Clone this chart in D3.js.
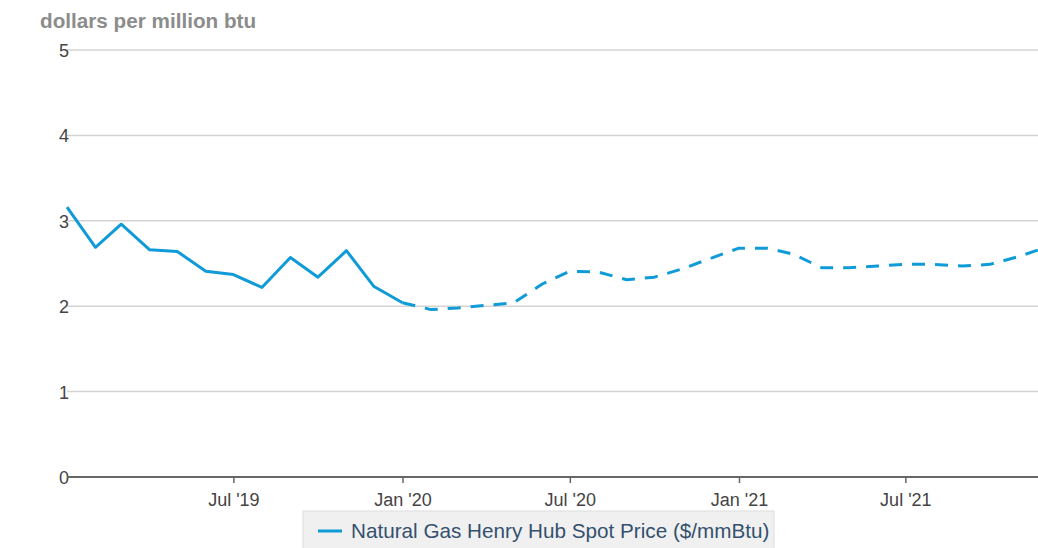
<!DOCTYPE html>
<html>
<head>
<meta charset="utf-8">
<script src="https://cdn.jsdelivr.net/npm/d3@7"></script>
<style>
    body { margin: 0; background: #fff; }
    svg { display: block; font-family: 'Liberation Sans', Arial, sans-serif; }
</style>
</head>
<body>
<svg id="chart" width="1038" height="548"></svg>
<script>
// Monthly Henry Hub spot price, history then forecast.
var historyMonths = ['2019-01', '2019-02', '2019-03', '2019-04', '2019-05', '2019-06',
    '2019-07', '2019-08', '2019-09', '2019-10', '2019-11', '2019-12', '2020-01'];
var historyValues = [3.16, 2.69, 2.96, 2.66, 2.64, 2.41, 2.37, 2.22, 2.57, 2.34, 2.65, 2.23, 2.04];

var forecastMonths = ['2020-01', '2020-02', '2020-03', '2020-04', '2020-05', '2020-06',
    '2020-07', '2020-08', '2020-09', '2020-10', '2020-11', '2020-12',
    '2021-01', '2021-02', '2021-03', '2021-04', '2021-05', '2021-06',
    '2021-07', '2021-08', '2021-09', '2021-10', '2021-11', '2021-12'];
var forecastValues = [2.04, 1.96, 1.98, 2.01, 2.04, 2.26, 2.41, 2.40, 2.31, 2.34, 2.44, 2.56,
    2.68, 2.68, 2.61, 2.45, 2.45, 2.47, 2.49, 2.49, 2.47, 2.49, 2.58, 2.69];

var yTicks = [0, 1, 2, 3, 4, 5];
var xTickMonths = ['2019-07', '2020-01', '2020-07', '2021-01', '2021-07'];
var xTickLabels = ["Jul '19", "Jan '20", "Jul '20", "Jan '21", "Jul '21"];

var yTitle = 'dollars per million btu';
var seriesName = 'Natural Gas Henry Hub Spot Price ($/mmBtu)';

var parseMonth = d3.timeParse('%Y-%m');
var blue = '#0f9bd7';

var svg = d3.select('#chart');

var x = d3.scaleTime()
    .domain([parseMonth('2019-01'), parseMonth('2021-12')])
    .range([67, 1046]);

var y = d3.scaleLinear()
    .domain([0, 5])
    .range([477, 50]);

// Gridlines.
svg.append('g')
    .selectAll('line')
    .data(yTicks.filter(function(d) { return d > 0; }))
    .enter().append('line')
    .attr('x1', 67)
    .attr('x2', 1038)
    .attr('y1', function(d) { return y(d); })
    .attr('y2', function(d) { return y(d); })
    .attr('stroke', '#d3d3d3')
    .attr('stroke-width', 1.5);

// Y labels.
svg.append('g')
    .selectAll('text')
    .data(yTicks)
    .enter().append('text')
    .attr('x', 69)
    .attr('y', function(d) { return y(d) + 7; })
    .attr('text-anchor', 'end')
    .attr('font-size', 18)
    .attr('fill', '#444')
    .text(function(d) { return d; });

// X axis.
var xAxis = d3.axisBottom(x)
    .tickValues(xTickMonths.map(parseMonth))
    .tickFormat(function(d, i) { return xTickLabels[i]; })
    .tickSize(6)
    .tickSizeOuter(0);

var gx = svg.append('g')
    .attr('transform', 'translate(0,' + y(0) + ')')
    .call(xAxis);

gx.select('.domain').remove();
gx.selectAll('.tick line').attr('stroke', '#666').attr('stroke-width', 1.5);
gx.selectAll('.tick text')
    .attr('y', 16)
    .attr('font-size', 18)
    .attr('font-family', "'Liberation Sans', Arial, sans-serif")
    .attr('fill', '#444');

svg.append('line')
    .attr('x1', 67)
    .attr('x2', 1038)
    .attr('y1', y(0))
    .attr('y2', y(0))
    .attr('stroke', '#666')
    .attr('stroke-width', 2);

// Title.
svg.append('text')
    .attr('x', 40)
    .attr('y', 28)
    .attr('font-size', 20.7)
    .attr('font-weight', 'bold')
    .attr('fill', '#8c8c8c')
    .text(yTitle);

// Series.
var line = d3.line()
    .x(function(d) { return x(d.date); })
    .y(function(d) { return y(d.value); });

var historyData = historyMonths.map(function(m, i) {
    return { date: parseMonth(m), value: historyValues[i] };
});
var forecastData = forecastMonths.map(function(m, i) {
    return { date: parseMonth(m), value: forecastValues[i] };
});

svg.append('path')
    .datum(historyData)
    .attr('d', line)
    .attr('fill', 'none')
    .attr('stroke', blue)
    .attr('stroke-width', 3)
    .attr('stroke-linejoin', 'round');

svg.append('path')
    .datum(forecastData)
    .attr('d', line)
    .attr('fill', 'none')
    .attr('stroke', blue)
    .attr('stroke-width', 3)
    .attr('stroke-dasharray', '13,10')
    .attr('stroke-linejoin', 'round');

// Legend.
var legend = svg.append('g');
legend.append('rect')
    .attr('x', 303)
    .attr('y', 511)
    .attr('width', 471)
    .attr('height', 40)
    .attr('fill', '#f0f0f0')
    .attr('stroke', '#dedede');
legend.append('line')
    .attr('x1', 318)
    .attr('x2', 342)
    .attr('y1', 531)
    .attr('y2', 531)
    .attr('stroke', blue)
    .attr('stroke-width', 3);
legend.append('text')
    .attr('x', 351)
    .attr('y', 538)
    .attr('font-size', 20.7)
    .attr('fill', '#34506e')
    .text(seriesName);
</script>
</body>
</html>
